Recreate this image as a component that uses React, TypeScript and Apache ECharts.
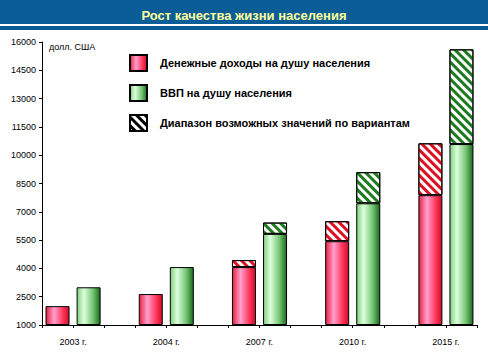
import React, { useEffect, useRef } from "react";
import * as echarts from "echarts";

const BASE = 1000;
const years = ["2003 г.", "2004 г.", "2007 г.", "2010 г.", "2015 г."];
const income = [2000, 2640, 4070, 5440, 7880];
const incomeHigh: (number | null)[] = [null, null, 4440, 6500, 10630];
const gdp = [3000, 4070, 5830, 7450, 10590];
const gdpHigh: (number | null)[] = [null, null, 6430, 9100, 15610];
const yTicks = { min: 1000, max: 16000, step: 1500 };

const TITLE = "Рост качества жизни населения";
const UNIT = "долл. США";
const NAME_INCOME = "Денежные доходы на душу населения";
const NAME_GDP = "ВВП на душу населения";
const NAME_RANGE = "Диапазон возможных значений по вариантам";

const FONT = "Liberation Sans, Arial, sans-serif";

export default function App() {
  const ref = useRef<HTMLDivElement>(null);
  useEffect(() => {
    document.body.style.margin = "0";
    const chart = echarts.init(ref.current!, null, { renderer: "svg" });

    const categories: string[] = [];
    years.forEach((y, i) => {
      categories.push(y);
      categories.push(y + "#2");
      if (i < years.length - 1) categories.push(y + "#gap");
    });
    const n = categories.length;
    const empty = () => new Array(n).fill("-") as (number | string)[];
    const sIncome = empty();
    const sGdp = empty();
    const sIncRange = empty();
    const sGdpRange = empty();
    years.forEach((_, j) => {
      sIncome[3 * j] = income[j] - BASE;
      sGdp[3 * j + 1] = gdp[j] - BASE;
      const ih = incomeHigh[j];
      if (ih != null) sIncRange[3 * j] = ih - income[j];
      const gh = gdpHigh[j];
      if (gh != null) sGdpRange[3 * j + 1] = gh - gdp[j];
    });

    const pinkGrad = new echarts.graphic.LinearGradient(0, 0, 1, 0, [
      { offset: 0, color: "#e8203c" },
      { offset: 0.35, color: "#ff9fd0" },
      { offset: 0.75, color: "#ff3355" },
      { offset: 1, color: "#c80e2c" },
    ]);
    const greenGrad = new echarts.graphic.LinearGradient(0, 0, 1, 0, [
      { offset: 0, color: "#80d080" },
      { offset: 0.3, color: "#dcffdc" },
      { offset: 0.7, color: "#72c272" },
      { offset: 1, color: "#1c6a1c" },
    ]);
    const hatch = (color: string) => ({
      symbol: "rect",
      symbolSize: 1,
      color,
      backgroundColor: "#ffffff",
      dashArrayX: [1, 0],
      dashArrayY: [2.5, 2.5],
      rotation: Math.PI / 4,
    });

    const barCommon = {
      type: "bar" as const,
      stack: "all",
      barWidth: 24,
      silent: true,
    };

    chart.setOption({
      animation: false,
      backgroundColor: "#ffffff",
      title: {
        text: TITLE,
        left: "center",
        top: 4,
        textStyle: { color: "#ffff99", fontSize: 13, fontWeight: "bold", fontFamily: FONT },
      },
      graphic: [
        { type: "rect", z: -1, shape: { x: 0, y: 0, width: 488, height: 24 }, style: { fill: "#0b5d98" } },
        { type: "rect", z: -1, shape: { x: 0, y: 26, width: 488, height: 4 }, style: { fill: "#0b5d98" } },
        {
          type: "text",
          left: 49,
          top: 42,
          style: { text: UNIT, fontSize: 9, fontFamily: FONT, fill: "#000" },
        },
      ],
      legend: {
        orient: "vertical",
        left: 129,
        top: 54,
        padding: 0,
        itemWidth: 17,
        itemHeight: 16,
        itemGap: 12,
        icon: "rect",
        selectedMode: false,
        data: [NAME_INCOME, NAME_GDP, NAME_RANGE],
        textStyle: { fontSize: 11, fontWeight: "bold", fontFamily: FONT, color: "#000", padding: [0, 0, 0, 8] },
      },
      grid: { left: 42, right: 11, top: 42, bottom: 35 },
      xAxis: {
        type: "category",
        data: categories,
        boundaryGap: true,
        axisLine: { lineStyle: { color: "#000", width: 1 } },
        axisTick: { show: true, length: 3, interval: 0, lineStyle: { color: "#000" } },
        axisLabel: {
          interval: 0,
          margin: 12,
          fontSize: 9,
          fontFamily: FONT,
          color: "#000",
          padding: [0, 0, 0, 31],
          formatter: (v: string) => (v.includes("#") ? "" : v),
        },
      },
      yAxis: {
        type: "value",
        min: 0,
        max: yTicks.max - yTicks.min,
        interval: yTicks.step,
        axisLine: { show: true, lineStyle: { color: "#000", width: 1 } },
        axisTick: { show: true, length: 3, lineStyle: { color: "#000" } },
        splitLine: { show: false },
        axisLabel: {
          margin: 6,
          fontSize: 9,
          fontFamily: FONT,
          color: "#000",
          formatter: (v: number) => String(v + BASE),
        },
      },
      series: [
        {
          ...barCommon,
          name: NAME_INCOME,
          data: sIncome,
          itemStyle: { color: pinkGrad, borderColor: "#000", borderWidth: 1 },
        },
        {
          ...barCommon,
          name: NAME_GDP,
          data: sGdp,
          itemStyle: { color: greenGrad, borderColor: "#000", borderWidth: 1 },
        },
        {
          ...barCommon,
          name: "range-income",
          data: sIncRange,
          itemStyle: { color: "#ffffff", borderColor: "#000", borderWidth: 1, decal: hatch("#dd1122") },
        },
        {
          ...barCommon,
          name: "range-gdp",
          data: sGdpRange,
          itemStyle: { color: "#ffffff", borderColor: "#000", borderWidth: 1, decal: hatch("#1e7a1e") },
        },
        {
          ...barCommon,
          name: NAME_RANGE,
          data: [],
          itemStyle: { color: "#ffffff", borderColor: "#000", borderWidth: 1, decal: hatch("#000000") },
        },
      ],
    });
    return () => chart.dispose();
  }, []);
  return <div ref={ref} style={{ width: 488, height: 360 }} />;
}
